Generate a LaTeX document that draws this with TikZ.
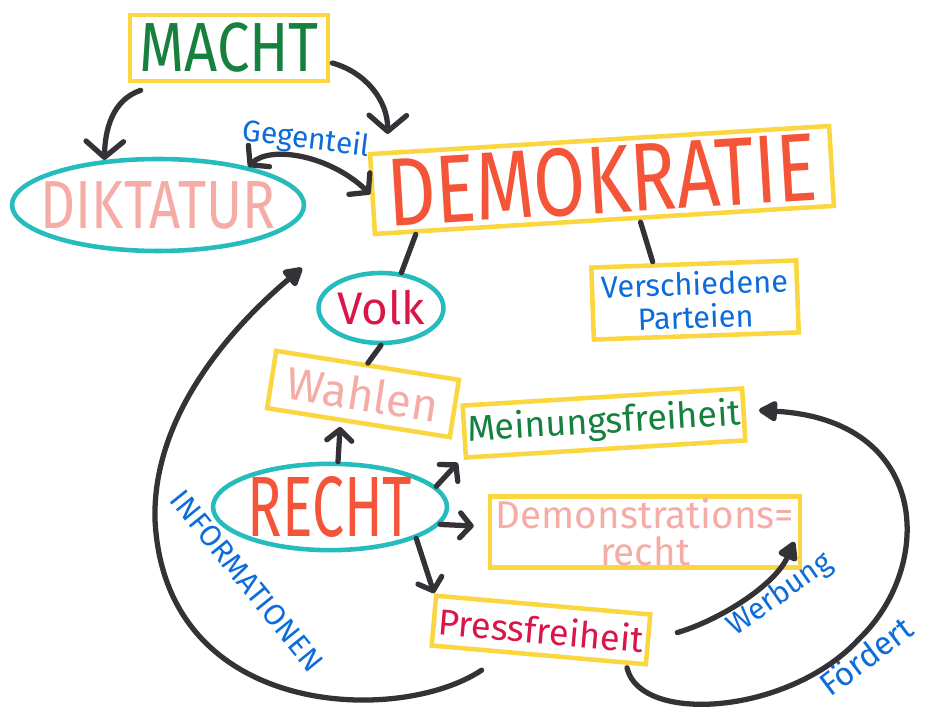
\documentclass[tikz,border=0pt]{standalone}
\usepackage{fontspec}
\setmainfont{Fira Sans}
\usepackage{graphicx}
\usetikzlibrary{shapes.geometric,arrows.meta,positioning,calc}

\definecolor{penGreen}{RGB}{22,128,62}
\definecolor{penPink}{RGB}{246,172,166}
\definecolor{penRed}{RGB}{244,84,56}
\definecolor{penCrimson}{RGB}{218,22,72}
\definecolor{penBlue}{RGB}{12,108,218}
\definecolor{penYellow}{RGB}{250,214,64}
\definecolor{penCyan}{RGB}{38,188,190}
\definecolor{penInk}{RGB}{52,50,54}

\newcommand{\tallword}[2]{\scalebox{1}[#1]{#2}}

\begin{document}
\begin{tikzpicture}[
    x=0.02cm, y=-0.02cm,
    box/.style={draw=penYellow, line width=2.6pt, rectangle, inner sep=0pt, align=center},
    bubble/.style={draw=penCyan, line width=2.6pt, ellipse, inner sep=0pt, align=center},
    link/.style={draw=penInk, line width=3pt, line cap=round, line join=round},
    arr/.style={link, -{Straight Barb[length=0.32cm, width=0.75cm, round]}},
    arrsmall/.style={link, -{Straight Barb[length=0.22cm, width=0.5cm, round]}},
    arrboth/.style={link, {Straight Barb[length=0.25cm, width=0.6cm, round]}-{Straight Barb[length=0.25cm, width=0.6cm, round]}},
    arrfill/.style={link, -{Triangle[length=0.42cm, width=0.45cm, round]}},
    linktext/.style={text=penBlue, inner sep=0pt}
]
    \useasboundingbox (0,0) rectangle (930,709);

    \node[box, minimum width=3.96cm, minimum height=1.32cm, text=penGreen,
          font=\fontsize{33}{36}\selectfont] (macht) at (229,48) {\tallword{1.2}{MACHT}};
    \node[bubble, minimum width=5.84cm, minimum height=1.84cm, text=penPink,
          font=\fontsize{31}{34}\selectfont] (dikt) at (158,205) {\makebox[0pt]{\tallword{1.25}{DIKTATUR}}};
    \node[box, rotate=3.5, minimum width=9.2cm, minimum height=1.6cm, text=penRed,
          font=\fontsize{43}{46}\selectfont] (demo) at (602,180) {\tallword{1.28}{DEMOKRATIE}};
    \node[box, rotate=2, minimum width=4.1cm, minimum height=1.44cm, text=penBlue,
          font=\fontsize{17.5}{19}\selectfont] (partei) at (695,300) {Verschiedene\\Parteien};
    \node[bubble, minimum width=2.5cm, minimum height=1.4cm, text=penCrimson,
          font=\fontsize{26}{28}\selectfont] (volk) at (381,308) {\makebox[0pt]{Volk}};
    \node[box, rotate=-9, minimum width=3.7cm, minimum height=1.16cm, text=penPink,
          font=\fontsize{26}{28}\selectfont] (wahlen) at (363,394) {Wahlen};
    \node[box, rotate=3.5, minimum width=5.6cm, minimum height=1.04cm, text=penGreen,
          font=\fontsize{20.4}{22}\selectfont] (meinung) at (604,423) {Meinungsfreiheit};
    \node[bubble, minimum width=4.68cm, minimum height=1.68cm, text=penRed,
          font=\fontsize{32.5}{34}\selectfont] (recht) at (330,507) {\makebox[0pt]{\tallword{1.5}{RECHT}}};
    \node[box, minimum width=6.2cm, minimum height=1.42cm, text=penPink,
          font=\fontsize{22}{21}\selectfont] (demonstr) at (645,532) {Demonstrations=\\recht};
    \node[box, rotate=-5, minimum width=4.3cm, minimum height=1.0cm, text=penCrimson,
          font=\fontsize{20.6}{22}\selectfont] (press) at (541,630) {Pressfreiheit};

    \node[linktext, rotate=-7, font=\fontsize{17}{18}\selectfont] (gegenteil) at (306,140) {Gegenteil};
    \node[linktext, rotate=-51, font=\fontsize{17}{18}\selectfont] (info) at (247,581) {INFORMATIONEN};
    \node[linktext, rotate=35, font=\fontsize{17}{18}\selectfont] (werbung) at (780,595) {Werbung};
    \node[linktext, rotate=37, font=\fontsize{18.5}{20}\selectfont] (foerdert) at (866,656) {Fördert};

    \coordinate (infotip) at (302,268);

    \draw[arr] ([shift={(13,7)}]macht.south west) .. controls (112,100) and (105,130) .. (dikt.140);
    \draw[arr] ([shift={(2,15)}]macht.east) .. controls (365,72) and (388,100) .. ([shift={(20,-18)}]demo.north west);
    \draw[arrboth] (dikt.23) .. controls (270,145) and (330,155) .. (demo.west);
    \draw[link] ([shift={(43,-2)}]demo.south west) -- (volk.60);
    \draw[link] ([shift={(36,0)}]demo.south) -- ([shift={(-41,0)}]partei.north);
    \draw[link] (volk.south) -- (wahlen.north);
    \draw[arrsmall] (recht.80) -- ([shift={(-18,2)}]wahlen.south);
    \draw[arrsmall] (recht.11) -- ([shift={(-6,3)}]meinung.south west);
    \draw[arrsmall] (recht.-9) -- ([shift={(-14,-6)}]demonstr.west);
    \draw[arrsmall] (recht.-20) -- (press.north west);
    \draw[arrfill] ([shift={(-57,13)}]press.south) .. controls (400,725) and (165,720) .. (155,520)
        .. controls (152,410) and (240,320) .. (infotip);
    \draw[arrfill] ([shift={(27,-7)}]press.east) .. controls (720,620) and (775,585) .. ([shift={(-8,-28)}]demonstr.south east);
    \draw[arrfill] ([shift={(-21,1)}]press.south east) .. controls (640,725) and (790,715) .. (860,638)
        .. controls (935,565) and (930,420) .. ([shift={(13,-4)}]meinung.east);
\end{tikzpicture}
\end{document}
